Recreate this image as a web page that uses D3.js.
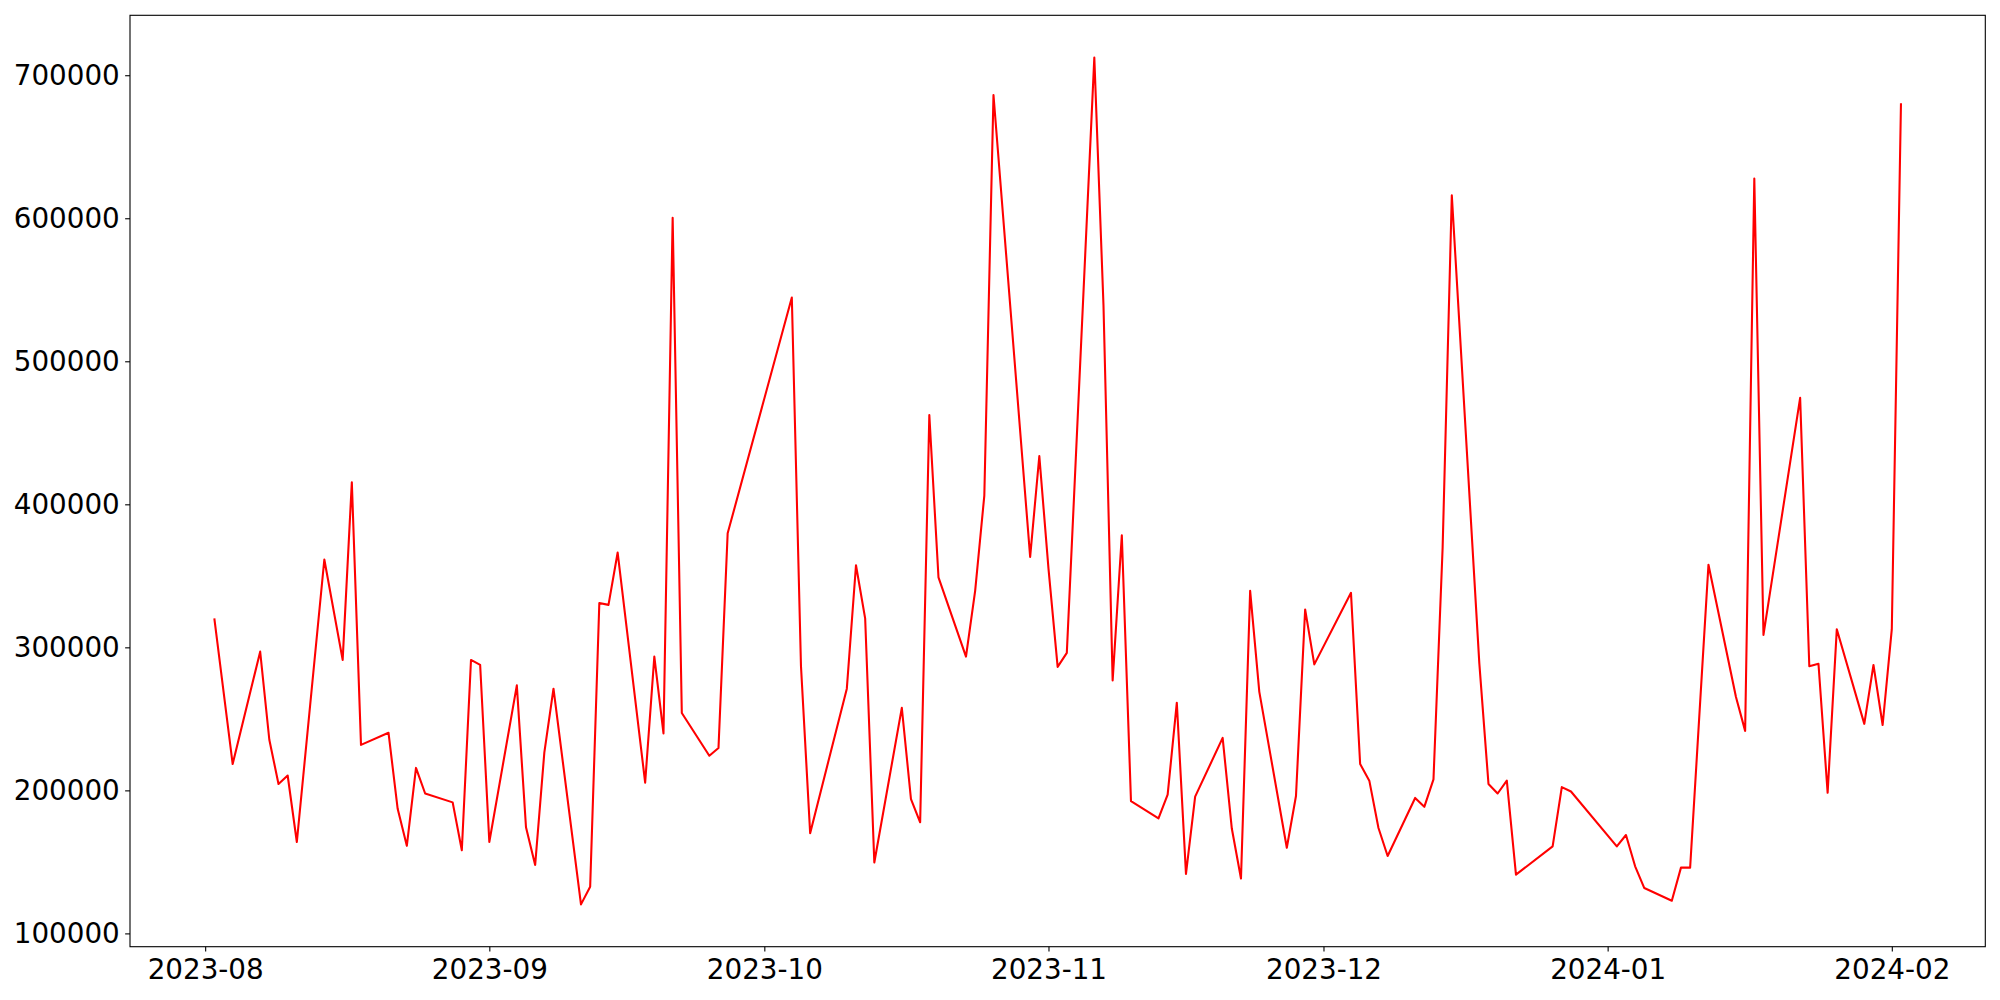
<!DOCTYPE html>
<html>
<head>
<meta charset="utf-8">
<script src="https://cdn.jsdelivr.net/npm/d3@7"></script>
<style>
  body { margin: 0; background: #fff; }
  .axis text { font-family: "DejaVu Sans", sans-serif; font-size: 27.78px; fill: #000; }
  .axis path { display: none; }
  .axis line { stroke: #000; stroke-width: 1.1; }
</style>
</head>
<body>
<div class="chart"></div>
<script>
// Values: trading days and their values
const dates = [
  '2023-08-02','2023-08-04','2023-08-07','2023-08-08','2023-08-09','2023-08-10','2023-08-11',
  '2023-08-14','2023-08-16','2023-08-17','2023-08-18','2023-08-21','2023-08-22','2023-08-23',
  '2023-08-24','2023-08-25','2023-08-28','2023-08-29','2023-08-30','2023-08-31',
  '2023-09-01','2023-09-04','2023-09-05','2023-09-06','2023-09-07','2023-09-08','2023-09-11',
  '2023-09-12','2023-09-13','2023-09-14','2023-09-15','2023-09-18','2023-09-19','2023-09-20',
  '2023-09-21','2023-09-22','2023-09-25','2023-09-26','2023-09-27',
  '2023-10-04','2023-10-05','2023-10-06','2023-10-10','2023-10-11','2023-10-12','2023-10-13',
  '2023-10-16','2023-10-17','2023-10-18','2023-10-19','2023-10-20','2023-10-23','2023-10-24',
  '2023-10-25','2023-10-26','2023-10-30','2023-10-31',
  '2023-11-01','2023-11-02','2023-11-03','2023-11-06','2023-11-07','2023-11-08','2023-11-09',
  '2023-11-10','2023-11-13','2023-11-14','2023-11-15','2023-11-16','2023-11-17','2023-11-20',
  '2023-11-21','2023-11-22','2023-11-23','2023-11-24','2023-11-27','2023-11-28','2023-11-29',
  '2023-11-30',
  '2023-12-04','2023-12-05','2023-12-06','2023-12-07','2023-12-08','2023-12-11','2023-12-12',
  '2023-12-13','2023-12-14','2023-12-15','2023-12-18','2023-12-19','2023-12-20','2023-12-21',
  '2023-12-22','2023-12-26','2023-12-27','2023-12-28',
  '2024-01-02','2024-01-03','2024-01-04','2024-01-05','2024-01-08','2024-01-09','2024-01-10',
  '2024-01-12','2024-01-15','2024-01-16','2024-01-17','2024-01-18','2024-01-22','2024-01-23',
  '2024-01-24','2024-01-25','2024-01-26','2024-01-29','2024-01-30','2024-01-31',
  '2024-02-01','2024-02-02'
];

const values = [
  320300, 218400, 297000, 235400, 204500, 210400, 163900,
  361400, 291200, 415400, 231800, 240300, 187100, 161200,
  215700, 197800, 191600, 158100, 291200, 287700,
  163900, 273400, 174200, 147800, 226400, 271100, 120300,
  132600, 331000, 329700, 366300, 205400, 293500, 239800,
  600400, 254100, 224200, 229600, 379700,
  544600, 286800, 170100, 271100, 357400, 320300, 149600,
  257700, 193800, 177700, 462400, 348900, 293500, 339500,
  406100, 686200, 363200, 433800,
  355000, 286300, 296100, 712300, 539200, 276900, 378400,
  192500, 180400, 197000, 261300, 141600, 195600, 236700,
  173300, 138400, 339500, 268900, 159900, 196100, 326500,
  288100,
  338100, 218400, 206800, 173700, 154100, 194700, 188500,
  207700, 370000, 616100, 289000, 204500, 197800, 206800,
  141100, 160800, 202300, 199200,
  160800, 168800, 146900, 131700, 122800, 146000, 146000,
  357800, 265300, 241600, 627700, 308700, 474400, 286800,
  288500, 198300, 312700, 246500, 287700, 245700,
  312700, 680400
];

const yTicks = [100000, 200000, 300000, 400000, 500000, 600000, 700000];

// Layout
const margin = { top: 15.3, right: 14.7, bottom: 53.3, left: 130 };
const outerWidth = 2000;
const outerHeight = 1000;
const innerWidth = outerWidth - margin.left - margin.right;
const innerHeight = outerHeight - margin.top - margin.bottom;

const parseDate = d3.utcParse('%Y-%m-%d');
const data = dates.map((d, i) => ({ date: parseDate(d), value: values[i] }));

const svg = d3.select('.chart')
  .append('svg')
    .attr('width', outerWidth)
    .attr('height', outerHeight)
    .style('display', 'block');

svg.append('rect')
  .attr('width', outerWidth)
  .attr('height', outerHeight)
  .attr('fill', '#fff');

const chartG = svg.append('g')
  .attr('transform', `translate(${margin.left},${margin.top})`);

// matplotlib-style 5% margins around the data
function padded(extent) {
  const pad = (extent[1] - extent[0]) * 0.05;
  return [extent[0] - pad, extent[1] + pad];
}

const xExtent = d3.extent(data, d => d.date.getTime());
const x = d3.scaleUtc()
  .domain(padded(xExtent))
  .range([0, innerWidth]);

const y = d3.scaleLinear()
  .domain(padded(d3.extent(data, d => d.value)))
  .range([innerHeight, 0]);

const tickLen = 4.86;

const xAxis = chartG.append('g')
  .attr('class', 'axis')
  .attr('transform', `translate(0,${innerHeight})`)
  .call(d3.axisBottom(x)
    .ticks(d3.utcMonth.every(1))
    .tickFormat(d3.utcFormat('%Y-%m'))
    .tickSize(tickLen)
    .tickPadding(tickLen));
xAxis.selectAll('text').attr('dy', '0.82em');

chartG.append('g')
  .attr('class', 'axis')
  .call(d3.axisLeft(y)
    .tickValues(yTicks)
    .tickFormat(d3.format('d'))
    .tickSize(tickLen)
    .tickPadding(tickLen + 0.5));

const line = d3.line()
  .x(d => x(d.date))
  .y(d => y(d.value));

chartG.append('path')
  .datum(data)
  .attr('fill', 'none')
  .attr('stroke', '#ff0000')
  .attr('stroke-width', 2.08)
  .attr('stroke-linejoin', 'round')
  .attr('d', line);

// Frame
chartG.append('rect')
  .attr('width', innerWidth)
  .attr('height', innerHeight)
  .attr('fill', 'none')
  .attr('stroke', '#000')
  .attr('stroke-width', 1.1);
</script>
</body>
</html>
